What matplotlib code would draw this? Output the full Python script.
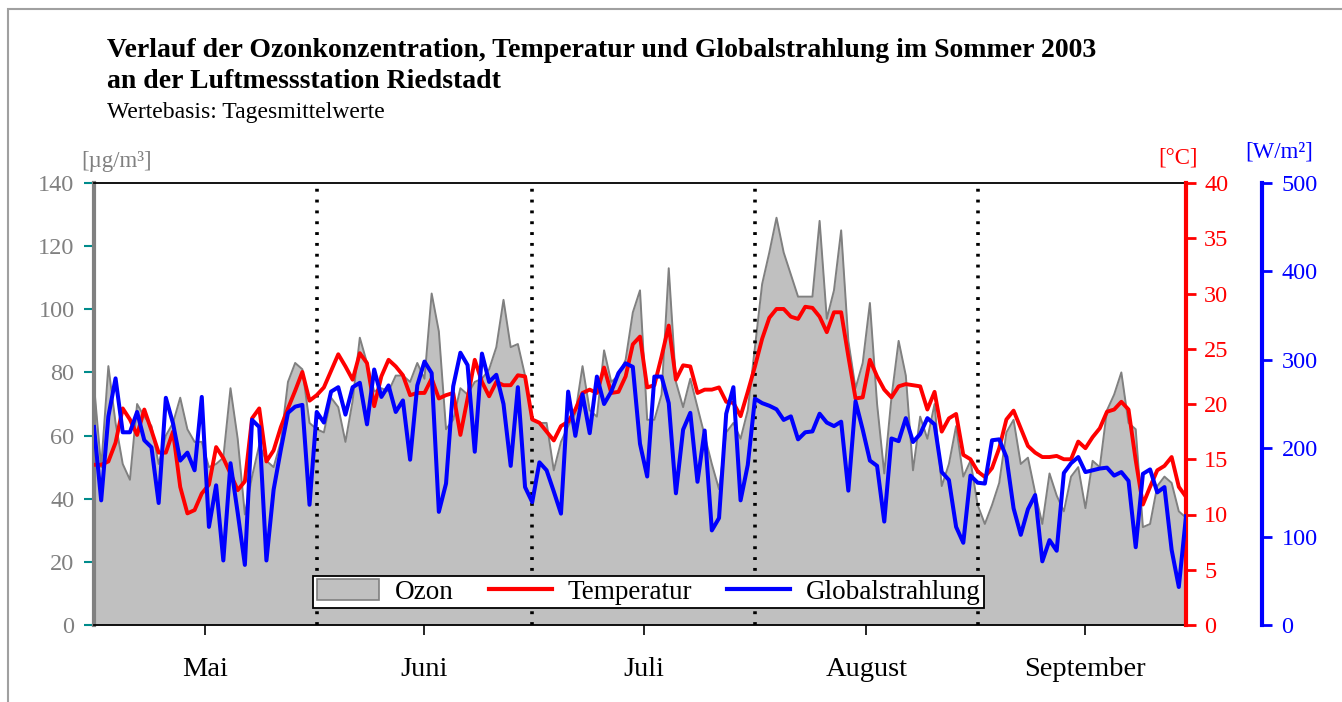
import numpy as np
import pandas as pd
import matplotlib
matplotlib.use("Agg")
import matplotlib.pyplot as plt
from matplotlib.patches import Patch, Rectangle
from matplotlib.lines import Line2D

plt.rcParams["font.family"] = ["Liberation Serif", "DejaVu Serif"]

# Tagesmittelwerte 01.05.2003 - 30.09.2003
tage = pd.date_range("2003-05-01", "2003-09-30", freq="D")

ozon = [
    76, 50, 82, 64, 51, 46, 70, 66, 63, 51, 60, 64, 72, 62, 58, 58, 50, 51, 53, 75,
    59, 35, 47, 57, 52, 50, 58, 77, 83, 81, 64, 62, 61, 72, 69, 58, 71, 91, 83, 74,
    75, 74, 79, 79, 77, 83, 78, 105, 93, 62, 65, 75, 73, 77, 78, 81, 88, 103, 88, 89,
    79, 65, 64, 64, 49, 58, 63, 67, 82, 68, 66, 87, 77, 79, 84, 99, 106, 65, 65, 73,
    113, 77, 69, 78, 69, 60, 51, 43, 61, 64, 59, 68, 88, 108, 118, 129, 118, 111, 104, 104,
    104, 128, 97, 106, 125, 90, 75, 83, 102, 70, 48, 72, 90, 79, 49, 66, 59, 70, 44, 51,
    63, 47, 52, 38, 32, 38, 45, 61, 65, 51, 53, 42, 32, 48, 41, 36, 47, 50, 37, 52,
    50, 68, 73, 80, 64, 62, 31, 32, 44, 47, 45, 36, 34,
]

temperatur = [
    14.5, 14.5, 14.8, 16.5, 19.6, 18.6, 17.2, 19.5, 17.6, 15.6, 15.6, 17.5, 12.5, 10.1, 10.4,
    11.9, 12.7, 16.1, 15.1, 13.7, 12.2, 13.0, 18.7, 19.6, 14.8, 15.8, 17.9, 19.6, 21.2, 22.9,
    20.3, 20.8, 21.5, 23.0, 24.5, 23.4, 22.2, 24.6, 23.7, 19.8, 22.5, 24.0, 23.4, 22.6, 20.8,
    21.0, 21.0, 22.3, 20.5, 20.8, 21.0, 17.2, 20.5, 24.0, 22.0, 20.7, 22.0, 21.7, 21.7, 22.6,
    22.5, 18.6, 18.3, 17.5, 16.7, 18.0, 18.4, 19.5, 21.0, 21.3, 21.0, 23.3, 21.0, 21.1, 22.5,
    25.4, 26.1, 21.5, 21.7, 24.3, 27.1, 22.2, 23.5, 23.4, 21.0, 21.3, 21.3, 21.5, 20.2, 20.1,
    18.9, 21.1, 23.4, 25.9, 27.8, 28.6, 28.6, 27.9, 27.7, 28.8, 28.7, 27.9, 26.5, 28.3, 28.3,
    24.3, 20.5, 20.6, 24.0, 22.5, 21.3, 20.6, 21.6, 21.8, 21.7, 21.6, 19.5, 21.1, 17.5, 18.7,
    19.1, 15.4, 15.0, 13.9, 13.4, 14.2, 16.0, 18.6, 19.4, 17.8, 16.2, 15.6, 15.2, 15.2, 15.3,
    15.0, 15.0, 16.6, 16.0, 17.0, 17.8, 19.3, 19.5, 20.2, 19.5, 14.9, 10.9, 12.5, 14.0, 14.4,
    15.2, 12.5, 11.6,
]

strahlung = [
    224, 141, 236, 279, 218, 218, 241, 209, 201, 138, 257, 228, 186, 195, 175, 258, 111, 158, 73, 183,
    127, 68, 232, 224, 73, 153, 198, 240, 247, 249, 136, 241, 229, 264, 269, 238, 269, 274, 227, 289,
    258, 271, 241, 254, 187, 271, 298, 285, 128, 160, 270, 308, 294, 196, 307, 275, 283, 250, 180, 269,
    156, 139, 184, 175, 151, 126, 264, 214, 261, 217, 281, 250, 264, 285, 296, 292, 205, 168, 281, 281,
    251, 149, 221, 240, 162, 220, 107, 121, 239, 269, 141, 181, 256, 251, 248, 244, 232, 236, 210, 218,
    219, 239, 229, 225, 230, 152, 253, 221, 186, 180, 117, 211, 208, 234, 207, 216, 234, 227, 173, 164,
    111, 93, 169, 161, 160, 209, 210, 190, 132, 102, 131, 147, 72, 96, 84, 172, 183, 190, 173, 175,
    177, 178, 169, 173, 163, 88, 171, 176, 150, 156, 85, 43, 123,
]

monate = ["Mai", "Juni", "Juli", "August", "September"]

W, H = 1342, 702
fig = plt.figure(figsize=(W / 100, H / 100), dpi=100)

# grauer Rahmen um die Grafik
fig.patches.append(Rectangle((8 / W, -0.1), 1.2, 1.1 - 9 / H, transform=fig.transFigure,
                             fill=False, edgecolor="#a0a0a0", linewidth=1.5))

ax = fig.add_axes([94 / W, 1 - 625 / H, 1092 / W, 442 / H])
ax_t = ax.twinx()
ax_r = ax.twinx()

# Ozon als Flaeche
ax.fill_between(tage, ozon, color="#c0c0c0", linewidth=0, zorder=1)
ax.plot(tage, ozon, color="#808080", linewidth=1.4, zorder=2)

# Monatsgrenzen
monatsanfang = pd.date_range("2003-05-01", "2003-09-01", freq="MS")
for d in monatsanfang[1:]:
    ax.axvline(d, color="black", linestyle=(0, (0.8, 2.2)), linewidth=2.6, zorder=3)

ax_t.plot(tage, temperatur, color="red", linewidth=2.8)
ax_r.plot(tage, strahlung, color="blue", linewidth=2.9)

# Achsen
ax.set_xlim(tage[0], tage[-1])
ax.set_ylim(0, 140)
ax.set_yticks(range(0, 141, 20))
ax.tick_params(axis="y", color="#008b8b", labelcolor="#808080", length=7, width=1.5,
               labelsize=17.5, pad=7)
monatsmitte = monatsanfang + (monatsanfang + pd.offsets.MonthBegin(1) - monatsanfang) / 2
ax.set_xticks(monatsmitte)
ax.set_xticklabels(monate)
ax.tick_params(axis="x", length=7, width=1.2, labelsize=20.5, pad=16)

ax.spines["left"].set_color("#808080")
ax.spines["left"].set_linewidth(3)
ax.spines["right"].set_visible(False)
ax.spines["top"].set_linewidth(1.3)
ax.spines["bottom"].set_linewidth(1.3)

ax_t.set_ylim(0, 40)
ax_t.set_yticks(range(0, 41, 5))
ax_t.tick_params(axis="y", colors="red", length=7, width=2, labelsize=17.5, pad=6)
for s in ["left", "top", "bottom"]:
    ax_t.spines[s].set_visible(False)
ax_t.spines["right"].set_color("red")
ax_t.spines["right"].set_linewidth(3)

ax_r.set_ylim(0, 500)
ax_r.set_yticks(range(0, 501, 100))
ax_r.spines["right"].set_position(("outward", 76 * 0.72))
ax_r.tick_params(axis="y", colors="blue", length=7, width=2, labelsize=17.5, pad=7)
for s in ["left", "top", "bottom"]:
    ax_r.spines[s].set_visible(False)
ax_r.spines["right"].set_color("blue")
ax_r.spines["right"].set_linewidth(3)

# Einheiten
fig.text(117 / W, 1 - 161 / H, "[µg/m³]", color="#808080", fontsize=16.5, ha="center", va="center")
fig.text(1178 / W, 1 - 158 / H, "[°C]", color="red", fontsize=16.5, ha="center", va="center")
fig.text(1279 / W, 1 - 152 / H, "[W/m²]", color="blue", fontsize=16.5, ha="center", va="center")

# Titel
fig.text(107 / W, 1 - 38 / H,
         "Verlauf der Ozonkonzentration, Temperatur und Globalstrahlung im Sommer 2003\n"
         "an der Luftmessstation Riedstadt",
         fontsize=20, fontweight="bold", ha="left", va="top", linespacing=1.32)
fig.text(107 / W, 1 - 102 / H, "Wertebasis: Tagesmittelwerte", fontsize=17, ha="left", va="top")

# Legende
handles = [
    Patch(facecolor="#c0c0c0", edgecolor="#808080", linewidth=1.2),
    Line2D([], [], color="red", linewidth=3),
    Line2D([], [], color="blue", linewidth=3),
]
leg = ax_r.legend(handles, ["Ozon", "Temperatur", "Globalstrahlung"], ncol=3,
                  loc="lower center", bbox_to_anchor=(0.508, 0.038), borderaxespad=0,
                  fontsize=19.5, frameon=True, fancybox=False, framealpha=1,
                  edgecolor="black", handlelength=2.3, handleheight=0.8,
                  columnspacing=1.3, borderpad=0.12, handletextpad=0.6)
leg.get_frame().set_linewidth(1.3)
leg.set_zorder(10)

fig.savefig("out.png", dpi=100)
